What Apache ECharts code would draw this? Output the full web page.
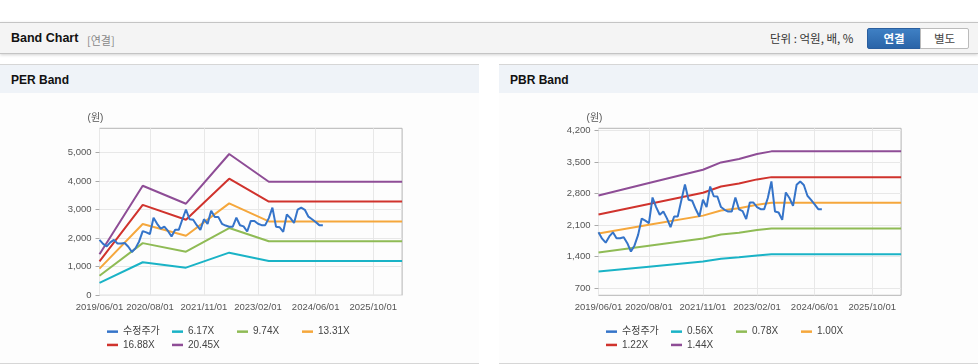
<!DOCTYPE html>
<html>
<head>
<meta charset="utf-8">
<script src="https://cdn.jsdelivr.net/npm/echarts@6/dist/echarts.min.js"></script>
<style>
  html, body { margin:0; padding:0; background:#ffffff; width:978px; height:364px; overflow:hidden;
    font-family:'Liberation Sans','Noto Sans CJK KR',sans-serif; }
  #topbar { position:absolute; left:0; top:22px; width:978px; height:30px; background:#f4f4f4;
    border-top:1px solid #c4c4c4; border-bottom:1px solid #c4c4c4; box-shadow:0 1px 3px rgba(0,0,0,0.18); }
  #topbar .title { position:absolute; left:11px; top:8px; font-size:12.5px; font-weight:bold; color:#111; }
  #topbar .sub { position:absolute; left:87px; top:9px; font-size:11px; color:#888; font-family:'Noto Sans CJK KR',sans-serif; }
  #topbar .unit { position:absolute; left:770px; top:7px; font-size:11.5px; color:#333; font-family:'Noto Sans CJK KR',sans-serif; }
  #topbar .b1 { position:absolute; left:867px; top:5px; width:52px; height:19px; background:linear-gradient(#3f80c4,#2a64a8);
    border:1px solid #2a5e9e; color:#fff; font-size:11.5px; font-weight:bold; text-align:center; line-height:19px; border-radius:2px 0 0 2px;
    font-family:'Noto Sans CJK KR',sans-serif; }
  #topbar .b2 { position:absolute; left:920px; top:5px; width:47px; height:19px; background:#fff;
    border:1px solid #bbb; color:#444; font-size:11.5px; text-align:center; line-height:19px; border-radius:0 2px 2px 0;
    font-family:'Noto Sans CJK KR',sans-serif; }
  .panel { position:absolute; top:64px; width:479px; height:298px; background:#fdfdfd;
    border-top:1px solid #d6d6d6; border-bottom:1px solid #d6d6d6; }
  .panel .ph { position:absolute; left:0; top:0; width:479px; height:28px; background:#eff3f8; }
  .panel .ph span { position:absolute; left:11px; top:8px; font-size:12px; font-weight:bold; color:#111; }
  .chart { position:absolute; left:0; top:28px; width:479px; height:269px; }
</style>
</head>
<body>
<div id="topbar">
  <div class="title">Band Chart</div>
  <div class="sub">[연결]</div>
  <div class="unit">단위 : 억원, 배, %</div>
  <div class="b1">연결</div>
  <div class="b2">별도</div>
</div>
<div class="panel" style="left:0;">
  <div class="ph"><span>PER Band</span></div>
  <div class="chart" id="per"></div>
</div>
<div class="panel" style="left:499px;">
  <div class="ph"><span>PBR Band</span></div>
  <div class="chart" id="pbr"></div>
</div>
<script>
// ---- axis categories (monthly, 2019/06 .. 2026/06) ----
const months = [];
for (let y = 2019; y <= 2026; y++) {
  for (let m = 1; m <= 12; m++) {
    if ((y === 2019 && m < 6) || (y === 2026 && m > 6)) continue;
    months.push(y + '/' + String(m).padStart(2, '0') + '/01');
  }
}
const xTickLabels = ['2019/06/01', '2020/08/01', '2021/11/01', '2023/02/01', '2024/06/01', '2025/10/01'];

// ---- adjusted price (수정주가), monthly from 2019/06 ----
const price = [1940, 1800, 1712, 1850, 1940, 1810, 1810, 1830, 1700, 1513,
  1650, 1884, 2246, 2200, 2143, 2712, 2500, 2330, 2401, 2250,
  2054, 2290, 2290, 2650, 3000, 2661, 2640, 2450, 2290, 2661,
  2498, 2956, 2740, 2734, 2500, 2439, 2400, 2400, 2712, 2450,
  2410, 2232, 2601, 2601, 2500, 2454, 2454, 2700, 3067, 2401,
  2380, 2217, 2823, 2700, 2528, 2994, 3067, 2990, 2750, 2661,
  2560, 2454, 2454];

// ---- PER band ----
const perNames = ['6.17X', '9.74X', '13.31X', '16.88X', '20.45X'];
const perDates = ['2019/06/01', '2020/06/01', '2021/06/01', '2022/06/01', '2023/05/01', '2026/06/01'];
const per617 = [433, 1156, 966, 1491, 1198, 1198];
const per974 = [683, 1825, 1525, 2353, 1892, 1892];
const per1331 = [933, 2494, 2085, 3216, 2585, 2585];
const per1688 = [1183, 3163, 2643, 4078, 3278, 3278];
const per2045 = [1434, 3832, 3203, 4941, 3972, 3972];
const perTicks = [0, 1000, 2000, 3000, 4000, 5000];

// ---- PBR band ----
const pbrNames = ['0.56X', '0.78X', '1.00X', '1.22X', '1.44X'];
const pbrDates = ['2019/06/01', '2020/08/01', '2021/11/01', '2022/04/01', '2022/09/01', '2023/02/01', '2023/06/01', '2026/06/01'];
const pbr056 = [1072, 1179, 1294, 1357, 1386, 1429, 1452, 1452];
const pbr078 = [1494, 1643, 1802, 1890, 1931, 1991, 2023, 2023];
const pbr100 = [1915, 2106, 2310, 2423, 2476, 2552, 2593, 2593];
const pbr122 = [2336, 2569, 2818, 2956, 3020, 3113, 3163, 3163];
const pbr144 = [2758, 3033, 3326, 3489, 3565, 3675, 3734, 3734];
const pbrTicks = [700, 1400, 2100, 2800, 3500, 4200];

const priceColor = '#3574c9';
const bandColors = ['#1ab3c6', '#8fbb55', '#f5a73c', '#d0332d', '#8e4d96'];
const FONT = "'Liberation Sans','Noto Sans CJK KR',sans-serif";

function showIdx(idx, val) { return xTickLabels.indexOf(val) >= 0; }

function buildOption(bandNames, bandDates, bands, yMin, yMax, yTicks) {
  const series = [{
    name: '수정주가', type: 'line', data: price, showSymbol: false, symbol: 'none',
    lineStyle: { width: 2, color: priceColor }, itemStyle: { color: priceColor }, z: 5
  }];
  bands.forEach((vals, i) => {
    series.push({
      name: bandNames[i], type: 'line', symbol: 'none', showSymbol: false,
      data: bandDates.map((d, j) => [d, vals[j]]),
      lineStyle: { width: 2, color: bandColors[i] }, itemStyle: { color: bandColors[i] }, z: 3
    });
  });
  return {
    animation: false,
    textStyle: { fontFamily: FONT },
    grid: { left: 99.5, top: 35.3, width: 302.6, height: 167, show: true, borderColor: '#b4b4b4', borderWidth: 1, backgroundColor: 'transparent' },
    legend: {
      left: 107, top: 232, width: 262, padding: 0, itemGap: 0,
      itemWidth: 11, itemHeight: 2.5, icon: 'rect',
      data: ['수정주가'].concat(bandNames),
      textStyle: { fontSize: 10, color: '#444', width: 49, lineHeight: 13.3, fontFamily: FONT }
    },
    xAxis: {
      type: 'category', data: months, boundaryGap: false,
      axisLine: { show: false }, axisTick: { show: false },
      axisLabel: { interval: showIdx, fontSize: 9.5, color: '#555', margin: 7, fontFamily: FONT },
      splitLine: { show: true, interval: showIdx, lineStyle: { color: '#e8e8e8', width: 1 } }
    },
    yAxis: {
      type: 'value', min: yMin, max: yMax,
      name: '(원)', nameLocation: 'end', nameGap: 5,
      nameTextStyle: { fontSize: 10, color: '#555', align: 'center', padding: [0, 8, 0, 0], fontFamily: FONT },
      axisLine: { show: false },
      axisTick: { show: true, length: 4, customValues: yTicks, lineStyle: { color: '#aaa' } },
      axisLabel: { customValues: yTicks, fontSize: 9.5, color: '#555', margin: 8, fontFamily: FONT,
        formatter: v => v.toLocaleString('en-US') },
      splitLine: { show: true, lineStyle: { color: '#e8e8e8', width: 1 } }
    },
    series: series
  };
}

const perChart = echarts.init(document.getElementById('per'), null, { renderer: 'canvas' });
perChart.setOption(buildOption(perNames, perDates, [per617, per974, per1331, per1688, per2045], 0, 5840, perTicks));
const pbrChart = echarts.init(document.getElementById('pbr'), null, { renderer: 'canvas' });
pbrChart.setOption(buildOption(pbrNames, pbrDates, [pbr056, pbr078, pbr100, pbr122, pbr144], 545, 4245, pbrTicks));
</script>
</body>
</html>
